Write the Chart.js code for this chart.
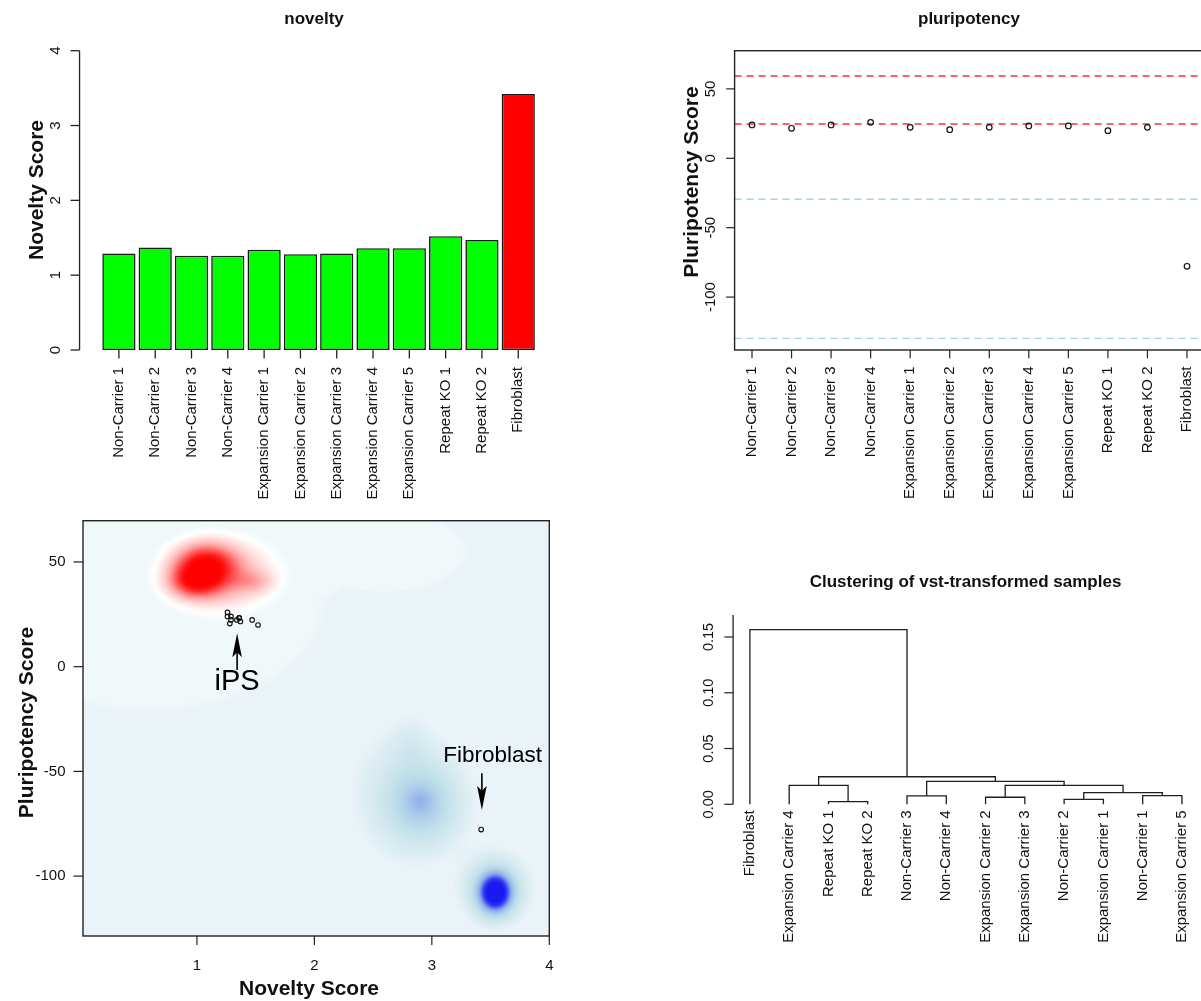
<!DOCTYPE html>
<html><head><meta charset="utf-8">
<script src="https://cdn.jsdelivr.net/npm/chart.js@4.4.1/dist/chart.umd.min.js"></script>
<style>
html,body{margin:0;padding:0;background:#fff;overflow:hidden;width:1201px;height:1001px}
canvas{position:absolute;left:0;top:0}
</style></head><body>
<canvas id="c1" width="1240" height="1001"></canvas>
<canvas id="c2" width="1240" height="1001"></canvas>
<canvas id="c3" width="1240" height="1001"></canvas>
<canvas id="c4" width="1240" height="1001"></canvas>
<script>
// ---------------- data ----------------
const samples = ["Non-Carrier 1","Non-Carrier 2","Non-Carrier 3","Non-Carrier 4","Expansion Carrier 1","Expansion Carrier 2","Expansion Carrier 3","Expansion Carrier 4","Expansion Carrier 5","Repeat KO 1","Repeat KO 2","Fibroblast"];
const noveltyScores = [1.29,1.37,1.26,1.26,1.34,1.28,1.29,1.36,1.36,1.52,1.47,3.42];
const pluripotencyScores = [24.0,21.6,24.0,25.9,22.3,20.6,22.3,23.3,23.3,19.9,22.3,-77.8];
const noveltyTicks = [0,1,2,3,4];
const pluripotencyTicks = [50,0,-50,-100];
const pluripotencyRedLines = [59.3,24.7];
const pluripotencyBlueLines = [-29.5,-129.7];
const scatterXTicks = [1,2,3,4];
const scatterYTicks = [50,0,-50,-100];
const dendroLeaves = ["Fibroblast","Expansion Carrier 4","Repeat KO 1","Repeat KO 2","Non-Carrier 3","Non-Carrier 4","Expansion Carrier 2","Expansion Carrier 3","Non-Carrier 2","Expansion Carrier 1","Non-Carrier 1","Expansion Carrier 5"];
const dendroMerges = [[-3,-4],[-9,-10],[-7,-8],[-5,-6],[-11,-12],[2,5],[-2,1],[3,6],[4,8],[7,9],[-1,10]];
const dendroHeights = [0.0024,0.0045,0.0063,0.0075,0.0078,0.0104,0.0170,0.0170,0.0206,0.0247,0.1566];
const dendroTicks = [0,0.05,0.10,0.15];
// reference density kernels (centre in data units, spread in data units, weight)
const ipsRefDensity = [
  {x:1.07,y:48,sx:0.16,sy:6.5,w:0.85},
  {x:0.98,y:40.5,sx:0.14,sy:5,w:0.6},
  {x:1.48,y:40.5,sx:0.12,sy:3.5,w:0.18},
  {x:1.2,y:44,sx:0.3,sy:11,w:0.4}
];
const ipsRefSpread = [
  {x:0.6,y:30,sx:0.73,sy:25},
  {x:2.6,y:55,sx:0.34,sy:9.5},
  {x:1.6,y:55,sx:0.4,sy:14}
];
const fibroRefDensity = [
  {x:2.9,y:-64,sx:0.07,sy:3.5,w:0.1},
  {x:2.92,y:-66,sx:0.2,sy:12,w:0.28},
  {x:2.8,y:-60,sx:0.3,sy:20,w:0.14},
  {x:2.82,y:-38,sx:0.1,sy:8,w:0.06},
  {x:3.54,y:-108,sx:0.09,sy:6,w:1.0},
  {x:3.54,y:-106,sx:0.17,sy:10,w:0.3}
];

// ---------------- helpers ----------------
const CW = 1240, CH = 1001;
const FONT = '"Liberation Sans", Arial, Helvetica, sans-serif';
const AX = '#222', TX = '#111';
function pad(l,t,r,b){ return {left:l, top:t, right:CW-r, bottom:CH-b}; }
function line(ctx,x1,y1,x2,y2){ ctx.beginPath(); ctx.moveTo(x1,y1); ctx.lineTo(x2,y2); ctx.stroke(); }
function vtext(ctx,txt,x,y,align,base){ ctx.save(); ctx.translate(x,y); ctx.rotate(-Math.PI/2); ctx.textAlign=align; ctx.textBaseline=base||'middle'; ctx.fillText(txt,0,0); ctx.restore(); }
function baseOpts(padding, scales){
  return {responsive:false, animation:false, events:[], devicePixelRatio:1,
    layout:{padding}, plugins:{legend:{display:false}, tooltip:{enabled:false}, title:{display:false}},
    scales};
}
function arrow(ctx,x,y1,y2){ // from y1 to tip y2
  const dir = Math.sign(y2-y1), L=24, hw=4.8;
  ctx.lineWidth=1.6; line(ctx,x,y1,x,y2-dir*L*0.6);
  ctx.beginPath(); ctx.moveTo(x,y2); ctx.lineTo(x-hw,y2-dir*L); ctx.lineTo(x,y2-dir*L*0.8); ctx.lineTo(x+hw,y2-dir*L); ctx.closePath(); ctx.fill();
}

// ---------------- panel 1: novelty bars ----------------
const barPlugin = {id:'barAxes', afterDraw(chart){
  const {ctx, chartArea:a, scales:{x,y}} = chart;
  ctx.save(); ctx.strokeStyle=AX; ctx.fillStyle=TX; ctx.lineWidth=1.3;
  const ax = a.left - 21.2;
  line(ctx, ax, y.getPixelForValue(0), ax, y.getPixelForValue(4));
  ctx.font = '15px '+FONT;
  noveltyTicks.forEach(v=>{ const py=y.getPixelForValue(v); line(ctx,ax,py,ax-9,py); vtext(ctx,String(v),ax-23.2,py,'center'); });
  samples.forEach((s,i)=>{ const px=x.getPixelForValue(i); line(ctx,px,a.bottom,px,a.bottom+8.5); vtext(ctx,s,px,a.bottom+17,'right'); });
  ctx.font='bold 17px '+FONT; ctx.textAlign='center'; ctx.textBaseline='alphabetic'; ctx.fillText('novelty',314,23.5);
  ctx.font='bold 21px '+FONT; vtext(ctx,'Novelty Score',43,190,'center','alphabetic');
  ctx.restore();
}};
new Chart(document.getElementById('c1'), {
  type:'bar',
  data:{labels:samples, datasets:[{data:noveltyScores,
    backgroundColor:samples.map(s=>s==='Fibroblast'?'#ff0000':'#00ff00'),
    borderColor:'#1a1a1a', borderWidth:1.6, borderSkipped:false, barPercentage:0.915, categoryPercentage:1}]},
  options: baseOpts(pad(100.75,50.7,536.4,350), {x:{display:false}, y:{display:false,min:0,max:4}}),
  plugins:[barPlugin]
});

// ---------------- panel 2: pluripotency points ----------------
const pluriPlugin = {id:'pluriAxes',
 beforeDatasetsDraw(chart){
  const {ctx, chartArea:a, scales:{y}} = chart;
  ctx.save();
  ctx.setLineDash([7,5]);
  ctx.lineWidth=1.5; ctx.strokeStyle='#ff3030';
  pluripotencyRedLines.forEach(v=>{ const py=y.getPixelForValue(v); line(ctx,a.left,py,a.right,py); });
  ctx.lineWidth=1.3; ctx.strokeStyle='#9fd6e8';
  pluripotencyBlueLines.forEach(v=>{ const py=y.getPixelForValue(v); line(ctx,a.left,py,a.right,py); });
  ctx.restore();
 },
 afterDraw(chart){
  const {ctx, chartArea:a, scales:{x,y}} = chart;
  ctx.save(); ctx.strokeStyle=AX; ctx.fillStyle=TX; ctx.lineWidth=1.4;
  ctx.strokeRect(a.left,a.top,a.right-a.left,a.bottom-a.top);
  ctx.lineWidth=1.2; ctx.font='15px '+FONT;
  pluripotencyTicks.forEach(v=>{ const py=y.getPixelForValue(v); line(ctx,a.left,py,a.left-8.4,py); vtext(ctx,String(v),a.left-23.6,py,'center'); });
  samples.forEach((s,i)=>{ const px=x.getPixelForValue(i+1); line(ctx,px,a.bottom,px,a.bottom+8.3); vtext(ctx,s,px,a.bottom+16.5,'right'); });
  ctx.font='bold 17px '+FONT; ctx.textAlign='center'; ctx.textBaseline='alphabetic'; ctx.fillText('pluripotency',969,24);
  ctx.font='bold 21px '+FONT; vtext(ctx,'Pluripotency Score',697.5,182,'center','alphabetic');
  ctx.restore();
 }};
new Chart(document.getElementById('c2'), {
  type:'scatter',
  data:{datasets:[{data:samples.map((s,i)=>({x:i+1,y:pluripotencyScores[i]})),
    pointRadius:2.8, pointBorderWidth:1.2, pointBorderColor:'#111', pointBackgroundColor:'rgba(0,0,0,0)', clip:false}]},
  options: baseOpts(pad(734.6,50.7,1204.4,350), {x:{type:'linear',display:false,min:0.56,max:12.44}, y:{type:'linear',display:false,min:-138.1,max:77.5}}),
  plugins:[pluriPlugin]
});

// ---------------- panel 3: density scatter ----------------
function kval(k,x,y){ const dx=(x-k.x)/k.sx, dy=(y-k.y)/k.sy; return Math.exp(-0.5*(dx*dx+dy*dy)); }
function lerp(c1,c2,t){ return [c1[0]+(c2[0]-c1[0])*t, c1[1]+(c2[1]-c1[1])*t, c1[2]+(c2[2]-c1[2])*t]; }
function ramp(stops,v){
  if (v<=stops[0][0]) return stops[0][1];
  for (let i=1;i<stops.length;i++){ if (v<=stops[i][0]){ const t=(v-stops[i-1][0])/(stops[i][0]-stops[i-1][0]); return lerp(stops[i-1][1],stops[i][1],t);} }
  return stops[stops.length-1][1];
}
const BASE=[234,243,248], LIGHT=[241,248,250];
const densityPlugin = {id:'density',
 beforeDatasetsDraw(chart){
  const {ctx, chartArea:a, scales:{x,y}} = chart;
  const L=Math.floor(a.left), T=Math.floor(a.top), W=Math.ceil(a.right)-L, H=Math.ceil(a.bottom)-T;
  const img = ctx.createImageData(W,H); const d=img.data;
  for (let j=0;j<H;j++){
    const vy = y.getValueForPixel(T+j+0.5);
    for (let i=0;i<W;i++){
      const vx = x.getValueForPixel(L+i+0.5);
      let lv=0; for (const k of ipsRefSpread) lv=Math.max(lv,kval(k,vx,vy));
      let t=Math.min(1,Math.max(0,(lv-0.11)/0.05)); t=t*t*(3-2*t);
      let col=lerp(BASE,LIGHT,t);
      let rv=0; for (const k of ipsRefDensity) rv+=k.w*kval(k,vx,vy);
      if (rv>0.05) col = ramp([[0.05,col],[0.1,[255,255,255]],[0.2,[255,222,222]],[0.4,[255,165,165]],[0.65,[255,85,85]],[0.9,[255,22,22]],[1.1,[255,0,0]]], rv);
      let bv=0; for (const k of fibroRefDensity) bv+=k.w*kval(k,vx,vy);
      if (bv>0.035) col = ramp([[0.035,col],[0.07,[222,238,243]],[0.15,[207,231,237]],[0.25,[192,223,234]],[0.35,[176,208,233]],[0.45,[160,188,234]],[0.52,[148,175,235]],[0.65,[100,125,238]],[0.8,[50,60,240]],[1.0,[25,25,240]]], bv);
      const p=(j*W+i)*4; d[p]=col[0]; d[p+1]=col[1]; d[p+2]=col[2]; d[p+3]=255;
    }
  }
  ctx.putImageData(img,L,T);
 },
 afterDraw(chart){
  const {ctx, chartArea:a, scales:{x,y}} = chart;
  ctx.save(); ctx.strokeStyle=AX; ctx.fillStyle=TX; ctx.lineWidth=1.4;
  ctx.strokeRect(a.left,a.top,a.right-a.left,a.bottom-a.top);
  ctx.lineWidth=1.2; ctx.font='15px '+FONT;
  scatterYTicks.forEach(v=>{ const py=y.getPixelForValue(v); line(ctx,a.left,py,a.left-9.5,py); ctx.textAlign='right'; ctx.textBaseline='middle'; ctx.fillText(String(v),a.left-17.5,py); });
  scatterXTicks.forEach(v=>{ const px=x.getPixelForValue(v); line(ctx,px,a.bottom,px,a.bottom+9); ctx.textAlign='center'; ctx.textBaseline='alphabetic'; ctx.fillText(String(v),px,a.bottom+33.5); });
  ctx.font='bold 21px '+FONT; ctx.textAlign='center'; ctx.textBaseline='alphabetic';
  ctx.fillText('Novelty Score', 309, 995);
  vtext(ctx,'Pluripotency Score',32.5,722.5,'center','alphabetic');
  // annotations
  ctx.fillStyle='#000'; ctx.strokeStyle='#000';
  const ipsX=x.getPixelForValue(1.342);
  arrow(ctx, ipsX, y.getPixelForValue(-1.6), y.getPixelForValue(16));
  ctx.font='29px '+FONT; ctx.textAlign='center'; ctx.textBaseline='alphabetic';
  ctx.fillText('iPS', ipsX, 690);
  const fbX=x.getPixelForValue(3.426);
  arrow(ctx, fbX, y.getPixelForValue(-50.9), y.getPixelForValue(-68.4));
  ctx.font='22.5px '+FONT; ctx.fillText('Fibroblast', x.getPixelForValue(3.518), 761.5);
  ctx.restore();
 }};
new Chart(document.getElementById('c3'), {
  type:'scatter',
  data:{datasets:[{data:samples.map((s,i)=>({x:noveltyScores[i],y:pluripotencyScores[i]})),
    pointRadius:2.3, pointBorderWidth:1.1, pointBorderColor:'#111', pointBackgroundColor:'rgba(0,0,0,0)', clip:false}]},
  options: baseOpts(pad(83,520.7,549.3,936), {x:{type:'linear',display:false,min:0.03,max:4.0}, y:{type:'linear',display:false,min:-128.6,max:69.7}}),
  plugins:[densityPlugin]
});

// ---------------- panel 4: dendrogram ----------------
function dendroSegments(){
  const nodes=[];
  const child=c=> c<0 ? {x:-c,h:0} : nodes[c-1];
  return dendroMerges.map((m,k)=>{ const a=child(m[0]), b=child(m[1]), h=dendroHeights[k];
    nodes.push({x:(a.x+b.x)/2,h});
    return [{x:a.x,y:a.h},{x:a.x,y:h},{x:b.x,y:h},{x:b.x,y:b.h}]; });
}
const dendroPlugin = {id:'dendroAxes', afterDraw(chart){
  const {ctx, chartArea:a, scales:{x,y}} = chart;
  ctx.save(); ctx.strokeStyle=AX; ctx.fillStyle=TX; ctx.lineWidth=1.3;
  const ax=a.left+2.85;
  line(ctx,ax,y.getPixelForValue(0),ax,a.top);
  ctx.lineWidth=1.2; ctx.font='14.5px '+FONT;
  dendroTicks.forEach(v=>{ const py=y.getPixelForValue(v); line(ctx,ax,py,ax-8.8,py); vtext(ctx,v.toFixed(2),ax-24,py,'center'); });
  ctx.font='15px '+FONT;
  dendroLeaves.forEach((s,i)=>{ vtext(ctx,s,x.getPixelForValue(i+1),a.bottom+6,'right'); });
  ctx.font='bold 17px '+FONT; ctx.textAlign='center'; ctx.textBaseline='alphabetic';
  ctx.fillText('Clustering of vst-transformed samples',965.5,586.5);
  ctx.restore();
}};
new Chart(document.getElementById('c4'), {
  type:'line',
  data:{datasets:dendroSegments().map(seg=>({data:seg, borderColor:'#1e1e1e', borderWidth:1.3, pointRadius:0, tension:0, fill:false, clip:false}))},
  options: baseOpts(pad(730.26,615,1201.6,804.3), {x:{type:'linear',display:false,min:0.5,max:12.5}, y:{type:'linear',display:false,min:0,max:0.1697}}),
  plugins:[dendroPlugin]
});
</script>
</body></html>
